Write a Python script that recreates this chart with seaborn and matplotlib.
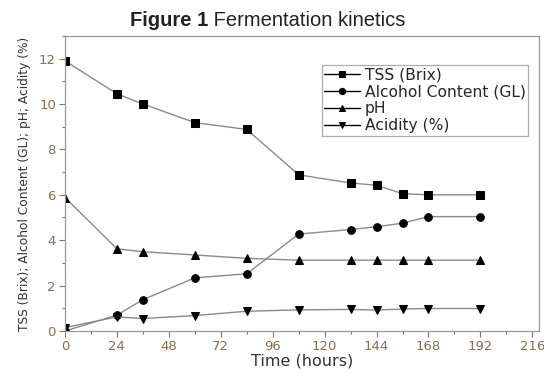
import pandas as pd
import seaborn as sns
import matplotlib.pyplot as plt
from matplotlib.ticker import MultipleLocator

# Fermentation readings
time_h = [0, 24, 36, 60, 84, 108, 132, 144, 156, 168, 192]
tss = [11.9, 10.45, 10.0, 9.18, 8.88, 6.88, 6.52, 6.42, 6.05, 6.0, 6.0]
alcohol = [0.0, 0.7, 1.38, 2.34, 2.52, 4.27, 4.47, 4.59, 4.75, 5.04, 5.04]
ph = [5.88, 3.62, 3.49, 3.35, 3.2, 3.12, 3.12, 3.12, 3.12, 3.12, 3.12]
acidity = [0.15, 0.62, 0.55, 0.68, 0.87, 0.93, 0.95, 0.92, 0.97, 0.99, 0.99]

series = ["TSS (Brix)", "Alcohol Content (GL)", "pH", "Acidity (%)"]
markers = ["s", "o", "^", "v"]

df = pd.DataFrame({
    "Time (hours)": time_h * 4,
    "value": tss + alcohol + ph + acidity,
    "series": [s for s in series for _ in time_h],
})

sns.set_style("ticks")
plt.rcParams["font.family"] = ["DejaVu Sans"]

fig = plt.figure(figsize=(5.44, 3.74), dpi=100)
ax = fig.add_axes([0.1195, 0.115, 0.871, 0.789])

for name, m in zip(series, markers):
    sub = df[df["series"] == name]
    sns.lineplot(
        data=sub, x="Time (hours)", y="value", ax=ax,
        color="#8a8a8a", linewidth=1.0, label=name,
        marker=m, markersize=5.5, markerfacecolor="black",
        markeredgecolor="black",
    )

ax.set_xlim(0, 219)
ax.set_ylim(0, 13)
ax.xaxis.set_major_locator(MultipleLocator(24))
ax.xaxis.set_minor_locator(MultipleLocator(12))
ax.yaxis.set_major_locator(MultipleLocator(2))
ax.yaxis.set_minor_locator(MultipleLocator(1))

tick_col = "#8c6d4f"
ax.tick_params(axis="both", which="major", length=4, width=0.8, pad=2.5,
               colors="#777777", labelcolor=tick_col, labelsize=9.5)
ax.tick_params(axis="both", which="minor", length=2.5, width=0.8,
               colors="#777777")
for sp in ax.spines.values():
    sp.set_visible(True)
    sp.set_color("#999999")
    sp.set_linewidth(0.9)

ax.set_xlabel("Time (hours)", fontsize=11.5, color="#333333", labelpad=0)
ax.set_ylabel("TSS (Brix); Alcohol Content (GL); pH; Acidity (%)",
              fontsize=8.8, color="#333333", labelpad=6)

leg = ax.legend(loc="upper left", bbox_to_anchor=(0.542, 0.9), frameon=True,
                fancybox=False, fontsize=11.2, handlelength=2.3,
                handletextpad=0.3, labelspacing=0.12, borderpad=0.15,
                borderaxespad=0)
leg.get_frame().set_edgecolor("#999999")
leg.get_frame().set_linewidth(0.9)
for h in leg.legend_handles:
    h.set_color("black")
    h.set_markersize(4.5)

# title in two weights, centred together
t1 = fig.text(0, 0.93, "Figure 1", ha="left", fontsize=14.5, fontweight="bold",
              family="Liberation Sans", color="#222222")
t2 = fig.text(0, 0.93, " Fermentation kinetics", ha="left", fontsize=14.5,
              family="Liberation Sans", color="#222222")
r = fig.canvas.get_renderer()
w1 = t1.get_window_extent(r).width / fig.bbox.width
w2 = t2.get_window_extent(r).width / fig.bbox.width
x0 = 0.492 - (w1 + w2) / 2
t1.set_x(x0)
t2.set_x(x0 + w1)

fig.savefig("out.png", dpi=100)
